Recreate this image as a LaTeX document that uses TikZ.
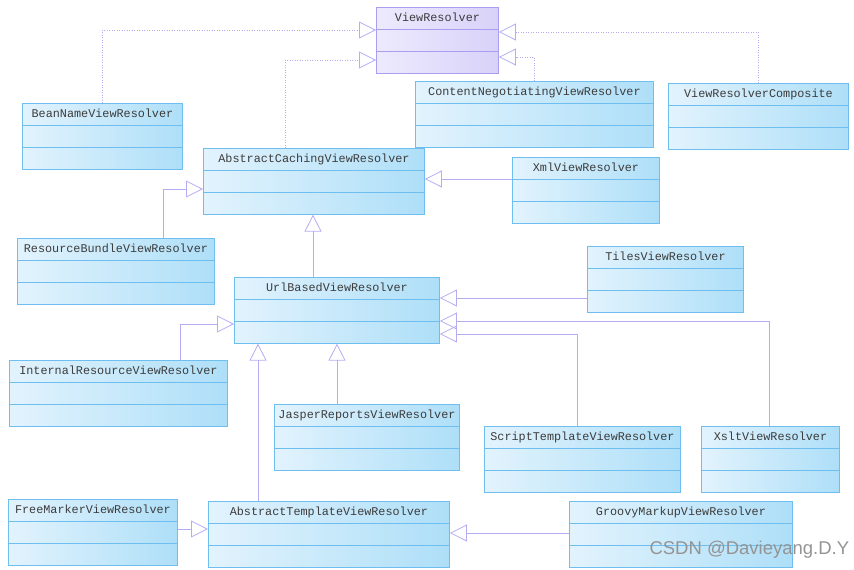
\documentclass[tikz,border=0pt]{standalone}
\usepackage{fontspec}
\setmonofont{Liberation Mono}
\newfontfamily\wmfont{Liberation Sans}
\usetikzlibrary{shapes,arrows.meta,positioning,calc}

\definecolor{boxline}{HTML}{6EBEF0}
\definecolor{boxlight}{HTML}{E2F3FD}
\definecolor{boxdark}{HTML}{AEDFF8}
\definecolor{ifline}{HTML}{A99FF0}
\definecolor{iflight}{HTML}{EDEAFD}
\definecolor{ifdark}{HTML}{D8D2F9}
\definecolor{linkcol}{HTML}{B5ADF2}
\definecolor{txtcol}{HTML}{3C3C3C}

\tikzset{
  cls/.style={rectangle split, rectangle split parts=3, draw=boxline, line width=0.9pt,
    left color=boxlight, right color=boxdark, text width=#1, align=center,
    inner xsep=0pt, inner ysep=5pt, text height=8.5pt, text depth=2.5pt,
    rectangle split empty part height=8.5pt, rectangle split empty part depth=2.5pt,
    font=\ttfamily\fontsize{11.8}{12}\selectfont, text=txtcol, anchor=north west},
  iface/.style={cls=#1, draw=ifline, left color=iflight, right color=ifdark},
  inh/.style={draw=linkcol, line width=0.8pt, -{Triangle[open, length=17pt, width=17pt]}},
  impl/.style={inh, dash pattern=on 1pt off 1.5pt},
}

\begin{document}
\begin{tikzpicture}[x=1pt, y=-1pt]
\useasboundingbox (0,0) rectangle (854,570);
% 类
\node[iface=122] (vr) at (376,7) {ViewResolver};
\node[cls=160] (bean) at (22,103) {BeanNameViewResolver};
\node[cls=238] (cn) at (415,81) {ContentNegotiatingViewResolver};
\node[cls=180] (vrc) at (668,83) {ViewResolverComposite};
\node[cls=221] (ac) at (203,148) {AbstractCachingViewResolver};
\node[cls=147] (xml) at (512,157) {XmlViewResolver};
\node[cls=197] (rb) at (17,238) {ResourceBundleViewResolver};
\node[cls=205] (ub) at (234,277) {UrlBasedViewResolver};
\node[cls=156] (tiles) at (587,246) {TilesViewResolver};
\node[cls=218] (ir) at (9,360) {InternalResourceViewResolver};
\node[cls=185] (jr) at (274,404) {JasperReportsViewResolver};
\node[cls=196] (st) at (484,426) {ScriptTemplateViewResolver};
\node[cls=138] (xslt) at (701,426) {XsltViewResolver};
\node[cls=169] (fm) at (8,499) {FreeMarkerViewResolver};
\node[cls=241] (at) at (208,501) {AbstractTemplateViewResolver};
\node[cls=223] (gm) at (569,501) {GroovyMarkupViewResolver};

% 实现
\draw[impl] (bean.north) |- (vr.west |- 0,30);
\draw[impl] (285,0 |- ac.north) |- (vr.west |- 0,60);
\draw[impl] (cn.north) |- (vr.east |- 0,57);
\draw[impl] (vrc.north) |- (vr.east |- 0,32);

% 继承
\draw[inh] (xml.west |- 0,179) -- (ac.east |- 0,179);
\draw[inh] (163,0 |- rb.north) |- (ac.west |- 0,189);
\draw[inh] (313,0 |- ub.north) -- (313,0 |- ac.south);
\draw[inh] (tiles.west |- 0,298) -- (ub.east |- 0,298);
\draw[inh] (769,0 |- xslt.north) |- (ub.east |- 0,321);
\draw[inh] (577,0 |- st.north) |- (ub.east |- 0,334);
\draw[inh] (180,0 |- ir.north) |- (ub.west |- 0,324);
\draw[inh] (337,0 |- jr.north) -- (337,0 |- ub.south);
\draw[inh] (258,0 |- at.north) -- (258,0 |- ub.south);
\draw[inh] (fm.east |- 0,529) -- (at.west |- 0,529);
\draw[inh] (gm.west |- 0,533) -- (at.east |- 0,533);

% 水印
\node[font=\wmfont\fontsize{18.5}{18.5}\selectfont, text=black!42, anchor=west] (mark) at (646,550) {CSDN @Davieyang.D.Y};
\end{tikzpicture}
\end{document}
